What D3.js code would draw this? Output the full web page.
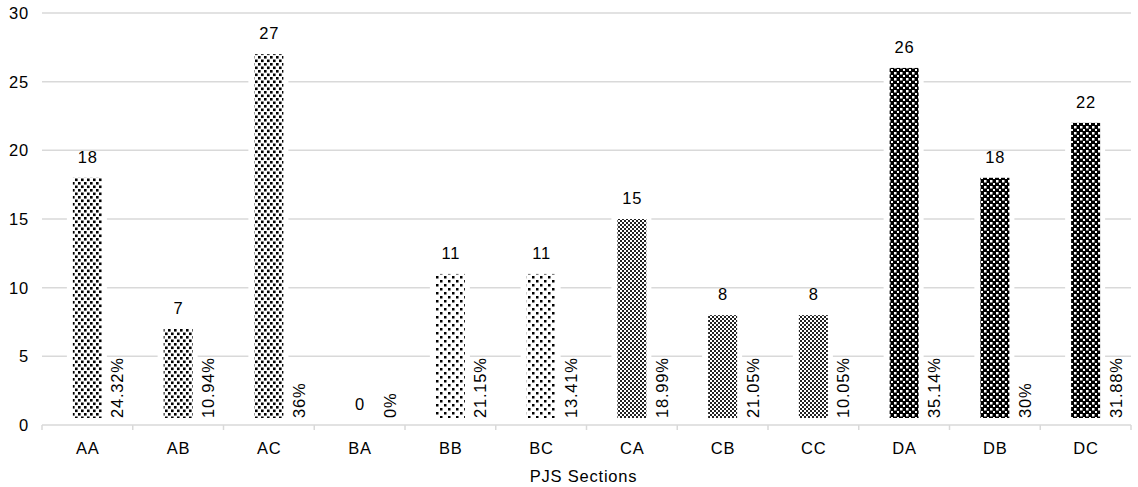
<!DOCTYPE html>
<html><head><meta charset="utf-8">
<script src="https://cdn.jsdelivr.net/npm/d3@7"></script>
<style>body{margin:0;background:#fff}svg{display:block}text{font-family:"Liberation Sans",Arial,sans-serif;fill:#000;letter-spacing:0.8px}</style>
</head><body><svg id="c" width="1138" height="487"></svg>
<script>
const categories = ["AA","AB","AC","BA","BB","BC","CA","CB","CC","DA","DB","DC"];
const counts = [18,7,27,0,11,11,15,8,8,26,18,22];
const percentLabels = ["24.32%","10.94%","36%","0%","21.15%","13.41%","18.99%","21.05%","10.05%","35.14%","30%","31.88%"];
const patternKeys = ["dense","dense","dense","sparse","sparse","sparse","check","check","check","dark","dark","dark"];
const yTicks = [0,5,10,15,20,25,30];
const xTitle = "PJS Sections";

const svg = d3.select("#c");
const x = d3.scaleBand().domain(categories).range([42,1131]);
const y = d3.scaleLinear().domain([0,30]).range([425,13]);
const FS = "16.5px";

const defs = svg.append("defs");
function pat(id,w,h,bg,rects){
  const p = defs.append("pattern").attr("id",id).attr("patternUnits","userSpaceOnUse").attr("width",w).attr("height",h);
  p.append("rect").attr("width",w).attr("height",h).attr("fill",bg);
  rects.forEach(r=>p.append("rect").attr("x",r[0]).attr("y",r[1]).attr("width",r[2]).attr("height",r[3]).attr("fill",r[4]||"#000"));
}
pat("dense",6,7,"#fff",[[0,0,2.6,2.6],[3,3.5,2.6,2.6]]);
pat("sparse",8,8,"#fff",[[0,0,2.5,2.5],[4,4,2.5,2.5]]);
pat("check",4,4,"#fff",[[0,0,2,2,"#222"],[2,2,2,2,"#222"]]);
pat("dark",6,6,"#000",[[0,0,2.5,2.5,"#fff"],[3,3,2,2,"#fff"]]);

svg.append("g").selectAll("line").data(yTicks.filter(d=>d>0)).join("line")
  .attr("x1",42).attr("x2",1131).attr("y1",d=>y(d)).attr("y2",d=>y(d))
  .attr("stroke","#d9d9d9").attr("stroke-width",1.5);

svg.append("g").selectAll("text").data(yTicks).join("text")
  .attr("x",29).attr("y",d=>y(d)+6).attr("text-anchor","end")
  .style("font-size",FS).text(d=>d);

svg.append("line").attr("x1",42).attr("x2",1131).attr("y1",y(0)).attr("y2",y(0))
  .attr("stroke","#d9d9d9").attr("stroke-width",1.5);
svg.append("g").selectAll("line").data(categories.concat(["__end"])).join("line")
  .attr("x1",(d,i)=>42+i*x.step()).attr("x2",(d,i)=>42+i*x.step())
  .attr("y1",y(0)).attr("y2",y(0)+5).attr("stroke","#d9d9d9").attr("stroke-width",1.5);

const bw = 29;
const cx = d => x(d) + x.bandwidth()/2;
const g = svg.append("g");
categories.forEach((c,i)=>{
  const v = counts[i];
  if (v > 0) {
    g.append("rect").attr("x",cx(c)-bw/2-6).attr("width",bw+11)
      .attr("y",y(v)-2).attr("height",y(0)-y(v)-1).attr("fill","#fff");
    g.append("rect").attr("x",cx(c)-bw/2).attr("width",bw)
      .attr("y",y(v)).attr("height",Math.max(0,y(0)-7-y(v)))
      .attr("fill","url(#"+patternKeys[i]+")");
  }
  g.append("text").attr("x",cx(c)+0.4).attr("y",y(v)-15).attr("text-anchor","middle")
    .style("font-size",FS).text(v);
  g.append("text").attr("transform",`translate(${cx(c)+36},${y(0)-7}) rotate(-90)`)
    .attr("text-anchor","start").style("font-size",FS).text(percentLabels[i]);
  g.append("text").attr("x",cx(c)+0.4).attr("y",y(0)+29).attr("text-anchor","middle")
    .style("font-size",FS).text(c);
});

svg.append("text").attr("x",(42+1131)/2-3).attr("y",482).attr("text-anchor","middle")
  .style("font-size",FS).text(xTitle);
</script></body></html>
